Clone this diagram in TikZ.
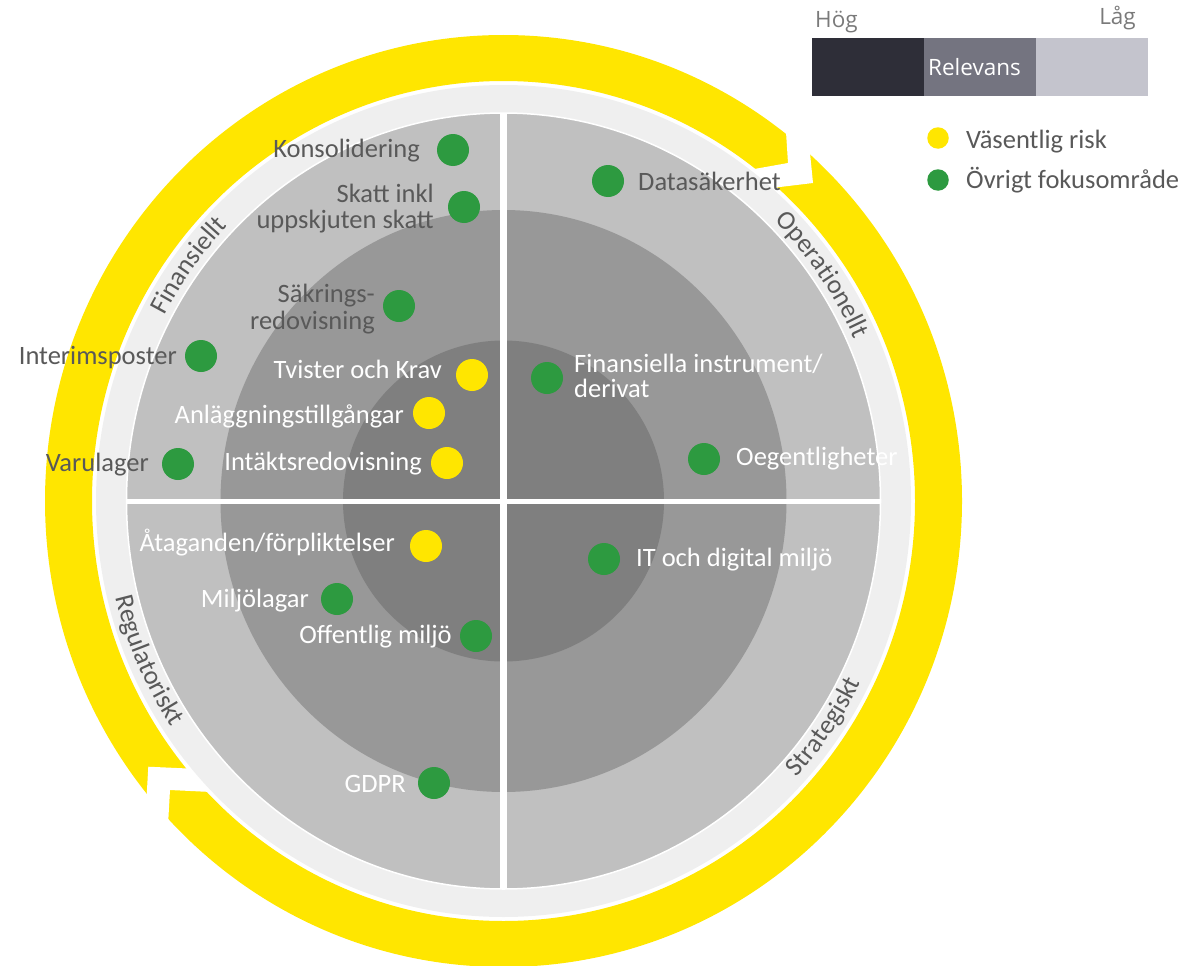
\documentclass[tikz,border=0pt]{standalone}
\usepackage{fontspec}
\setmainfont{Carlito}
\newfontfamily\legfont{Open Sans}
\usetikzlibrary{calc,decorations.text}
\definecolor{eyyellow}{HTML}{FFE600}
\definecolor{ringgrey}{HTML}{EFEFEF}
\definecolor{gone}{HTML}{C0C0C0}
\definecolor{gtwo}{HTML}{989898}
\definecolor{gthree}{HTML}{7F7F7F}
\definecolor{dotgreen}{HTML}{2D9A40}
\definecolor{txtgrey}{HTML}{595959}
\definecolor{legdark}{HTML}{2E2E38}
\definecolor{legmid}{HTML}{747480}
\definecolor{leglight}{HTML}{C4C4CD}
\definecolor{legtxt}{HTML}{7A7A7A}
\newcommand\catfont{\fontsize{26.5}{26.5}\selectfont}
\begin{document}
\begin{tikzpicture}[x=1pt,y=-1pt,
  gdot/.style={circle,fill=dotgreen,minimum size=32pt,inner sep=0pt},
  ydot/.style={circle,fill=eyyellow,minimum size=32pt,inner sep=0pt},
  lbl/.style={inner sep=0pt,font=\fontsize{26.5}{27}\selectfont},
  dk/.style={lbl,text=txtgrey},
  wt/.style={lbl,text=white},
  cattext/.style={decorate,decoration={text along path,text align=center,text color=txtgrey,text={|\catfont|#1}}},
  legtext/.style={inner sep=0pt,font=\legfont\fontsize{22.5}{23}\selectfont}]
\useasboundingbox (0,0) rectangle (1194,966);
\coordinate (c) at (503.5,501);
% yellow circular arrow
\fill[eyyellow,even odd rule] (c) ellipse [x radius=458.5pt,y radius=466pt]
                              (c) ellipse [x radius=411.5pt,y radius=420pt];
\fill[white] (783.3,90) -- (786,132) -- (788,163) -- (760,168) -- (740,171.6)
  -- (740,191.8) -- (780,187) -- (813,183) -- (810,153) -- (804.7,100) -- cycle;
\fill[white] (144.7,830) -- (146.7,795) -- (148.3,766.7) -- (183.3,768.3) -- (220,770)
  -- (240,793.5) -- (205,791.7) -- (170,790) -- (168.3,820) -- (166,860) -- cycle;
% rings
\fill[ringgrey] (c) ellipse [x radius=407.5pt,y radius=416pt];
\filldraw[fill=gone,draw=white,line width=1.5pt] (c) ellipse [x radius=377pt,y radius=388pt];
\fill[gtwo] (c) ellipse [x radius=283pt,y radius=291pt];
\fill[gthree] (c) circle [radius=160.5pt];
\begin{scope}
  \clip (c) ellipse [x radius=377pt,y radius=388pt];
  \fill[white] (500.3,0) rectangle (506.7,966);
  \fill[white] (0,498.5) rectangle (1194,503.5);
\end{scope}
% category labels, set along the light ring
\begin{scope}[y=1pt]
  \path[cattext=Finansiellt] ($(c)+(166:385pt and 393.5pt)$)
    arc[start angle=166,end angle=121.4,x radius=385pt,y radius=393.5pt];
  \path[cattext=Operationellt] ($(c)+(57:385pt and 393.5pt)$)
    arc[start angle=57,end angle=12.8,x radius=385pt,y radius=393.5pt];
  \path[cattext=Regulatoriskt] ($(c)+(181.7:399pt and 407.8pt)$)
    arc[start angle=181.7,end angle=225.7,x radius=399pt,y radius=407.8pt];
  \path[cattext=Strategiskt] ($(c)+(-56.6:399pt and 407.8pt)$)
    arc[start angle=-56.6,end angle=-12.6,x radius=399pt,y radius=407.8pt];
\end{scope}
% items upper left
\node[gdot] (d1) at (453,150) {};
\node[dk,anchor=base east] (t1) at (420,157) {Konsolidering};
\node[gdot] (d2) at (464,207) {};
\node[dk,anchor=base east] (t2a) at (434,202) {Skatt inkl};
\node[dk,anchor=base east] (t2b) at (434,228) {uppskjuten skatt};
\node[gdot] (d3) at (399,306) {};
\node[dk,anchor=base east] (t3a) at (375,302) {Säkrings-};
\node[dk,anchor=base east] (t3b) at (375,329) {redovisning};
\node[gdot] (d4) at (201,356) {};
\node[dk,anchor=base east] (t4) at (177,364) {Interimsposter};
\node[ydot] (d5) at (472,375) {};
\node[wt,anchor=base east] (t5) at (442,378) {Tvister och Krav};
\node[ydot] (d6) at (429,413) {};
\node[wt,anchor=base east] (t6) at (404,423) {Anläggningstillgångar};
\node[gdot] (d7) at (178,464) {};
\node[dk,anchor=base east] (t7) at (149,471) {Varulager};
\node[ydot] (d8) at (447,463) {};
\node[wt,anchor=base east] (t8) at (422,470) {Intäktsredovisning};
% upper right
\node[gdot] (d9) at (608,181) {};
\node[dk,anchor=base west] (t9) at (638,190) {Datasäkerhet};
\node[gdot] (d10) at (547,378) {};
\node[wt,anchor=base west] (t10a) at (574,372) {Finansiella instrument/};
\node[wt,anchor=base west] (t10b) at (574,397) {derivat};
\node[gdot] (d11) at (704,459) {};
\node[wt,anchor=base west] (t11) at (736,465) {Oegentligheter};
% lower left
\node[ydot] (d12) at (426,546) {};
\node[wt,anchor=base east] (t12) at (395,551) {Åtaganden/förpliktelser};
\node[gdot] (d13) at (337,599) {};
\node[wt,anchor=base east] (t13) at (309,607) {Miljölagar};
\node[gdot] (d14) at (476,636) {};
\node[wt,anchor=base east] (t14) at (452,643) {Offentlig miljö};
\node[gdot] (d15) at (434,783) {};
\node[wt,anchor=base east] (t15) at (406,792) {GDPR};
% lower right
\node[gdot] (d16) at (604,559) {};
\node[wt,anchor=base west] (t16) at (636,566) {IT och digital miljö};
% legend
\fill[legdark] (812,38) rectangle (924,96);
\fill[legmid] (924,38) rectangle (1036,96);
\fill[leglight] (1036,38) rectangle (1148,96);
\node[legtext,text=white,anchor=base west] (rel) at (928,75) {Relevans};
\node[legtext,text=legtxt,anchor=base west] (hog) at (815,28) {Hög};
\node[legtext,text=legtxt,anchor=base east] (lag) at (1136,25) {Låg};
\node[circle,fill=eyyellow,minimum size=21.5pt,inner sep=0pt] (ly) at (938,138) {};
\node[circle,fill=dotgreen,minimum size=21.5pt,inner sep=0pt] (lg) at (938,180) {};
\node[dk,anchor=base west] (lyt) at (966,148) {Väsentlig risk};
\node[dk,anchor=base west] (lgt) at (966,188) {Övrigt fokusområde};
\end{tikzpicture}
\end{document}
